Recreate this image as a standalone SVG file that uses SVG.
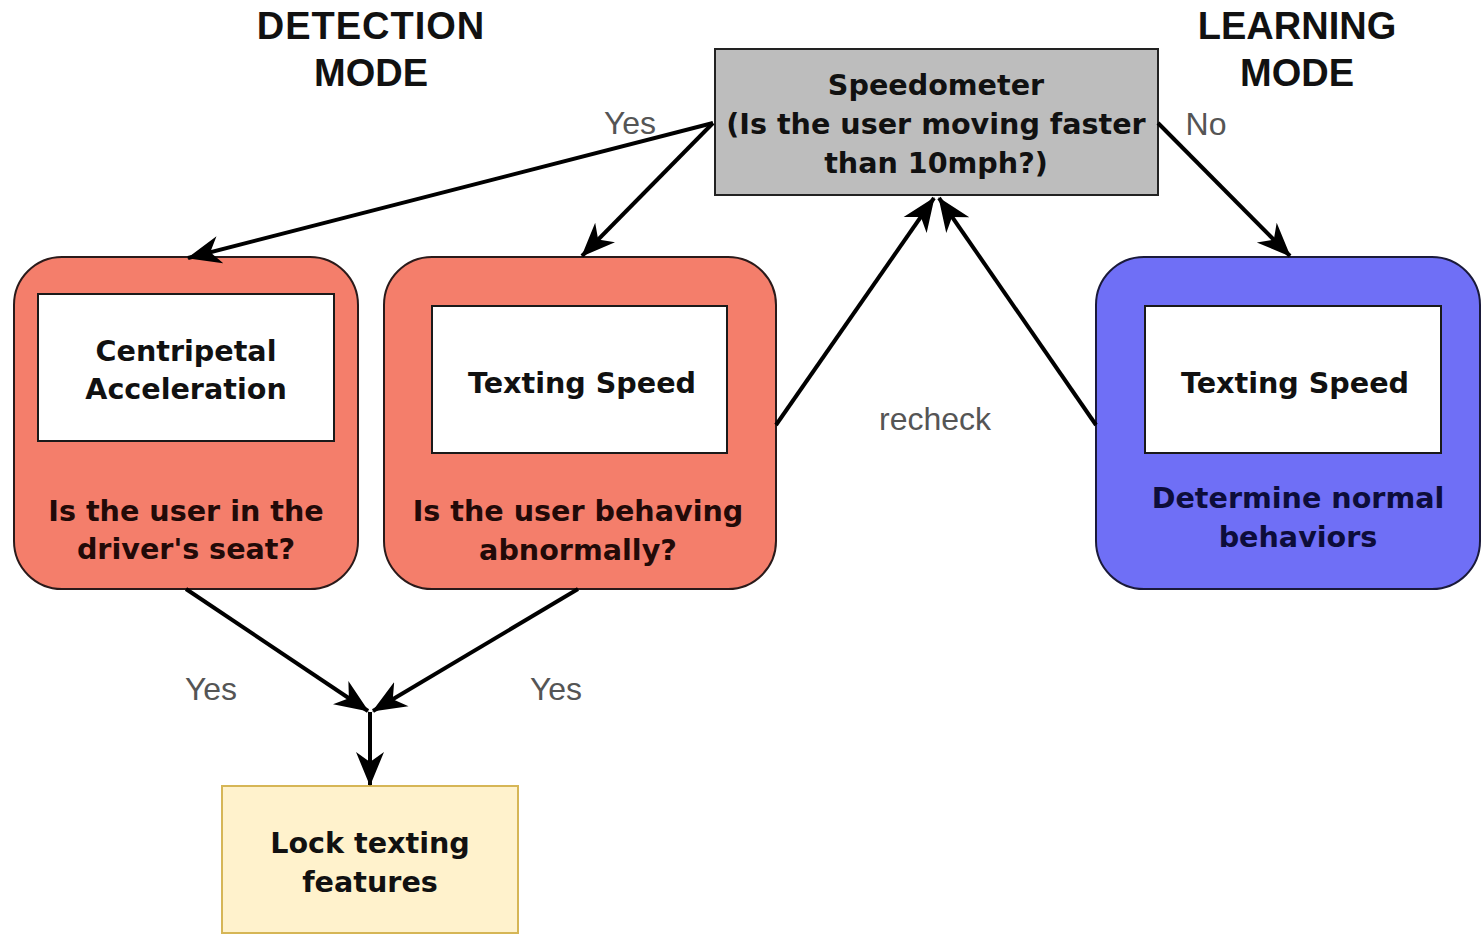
<svg xmlns="http://www.w3.org/2000/svg" width="1482" height="935" viewBox="0 0 1482 935">
  <style>
    .bold { font-family: "DejaVu Sans", Verdana, sans-serif; font-weight: bold; font-size: 28.6px; text-anchor: middle; }
    .title { font-family: "Liberation Sans", Arial, sans-serif; font-weight: bold; font-size: 38px; text-anchor: middle; fill: #111; }
    .lbl { font-family: "Liberation Sans", Arial, sans-serif; font-size: 32px; text-anchor: middle; fill: #555; }
    .edge { fill: none; stroke: #000; stroke-width: 4; marker-end: url(#arrow); }
    .inner { fill: #fff; stroke: #1a1a1a; stroke-width: 2; }
  </style>
  <defs>
    <marker id="arrow" markerUnits="userSpaceOnUse" markerWidth="34" markerHeight="30" viewBox="0 0 34 30" refX="33" refY="15" orient="auto">
      <path d="M0,1 L34,15 L0,29 L10,15 Z" fill="#000"/>
    </marker>
  </defs>
  <rect width="1482" height="935" fill="#fff"/>

  <!-- mode headings -->
  <text class="title" x="371" y="39" letter-spacing="1">DETECTION</text>
  <text class="title" x="371" y="86">MODE</text>
  <text class="title" x="1297" y="39">LEARNING</text>
  <text class="title" x="1297" y="86">MODE</text>

  <g id="speedometer">
    <rect x="715" y="49" width="443" height="146" fill="#bdbdbd" stroke="#222" stroke-width="2"/>
    <text class="bold" x="936" y="95" fill="#111">Speedometer</text>
    <text class="bold" x="936" y="134" fill="#111">(Is the user moving faster</text>
    <text class="bold" x="936" y="173" fill="#111">than 10mph?)</text>
  </g>

  <g id="centripetal">
    <rect x="14" y="257" width="344" height="332" rx="48" ry="48" fill="#f47e6b" stroke="#2a1a1a" stroke-width="2"/>
    <rect class="inner" x="38" y="294" width="296" height="147"/>
    <text class="bold" x="186" y="361" fill="#111">Centripetal</text>
    <text class="bold" x="186" y="399" fill="#111">Acceleration</text>
    <text class="bold" x="186" y="521" fill="#220a08">Is the user in the</text>
    <text class="bold" x="186" y="559" fill="#220a08">driver's seat?</text>
  </g>

  <g id="texting-detect">
    <rect x="384" y="257" width="392" height="332" rx="48" ry="48" fill="#f47e6b" stroke="#2a1a1a" stroke-width="2"/>
    <rect class="inner" x="432" y="306" width="295" height="147"/>
    <text class="bold" x="582" y="393" fill="#111">Texting Speed</text>
    <text class="bold" x="578" y="521" fill="#220a08">Is the user behaving</text>
    <text class="bold" x="578" y="560" fill="#220a08">abnormally?</text>
  </g>

  <g id="texting-learn">
    <rect x="1096" y="257" width="384" height="332" rx="48" ry="48" fill="#6f6ff6" stroke="#1a1a3a" stroke-width="2"/>
    <rect class="inner" x="1145" y="306" width="296" height="147"/>
    <text class="bold" x="1295" y="393" fill="#111">Texting Speed</text>
    <text class="bold" x="1298" y="508" fill="#0d0d3a">Determine normal</text>
    <text class="bold" x="1298" y="547" fill="#0d0d3a">behaviors</text>
  </g>

  <g id="lock">
    <rect x="222" y="786" width="296" height="147" fill="#fff2cc" stroke="#d6b656" stroke-width="2"/>
    <text class="bold" x="370" y="853" fill="#111">Lock texting</text>
    <text class="bold" x="370" y="892" fill="#111">features</text>
  </g>

  <g id="connectors">
    <path class="edge" d="M713,123 L188,258"/>
    <path class="edge" d="M713,123 L582,256"/>
    <path class="edge" d="M1158,123 L1290,256"/>
    <path class="edge" d="M776,425 L934,198"/>
    <path class="edge" d="M1096,425 L939,198"/>
    <path class="edge" d="M186,589 L368,711"/>
    <path class="edge" d="M578,589 L373,711"/>
    <path class="edge" d="M370,712 L370,785"/>
    <text class="lbl" x="630" y="134">Yes</text>
    <text class="lbl" x="1206" y="135">No</text>
    <text class="lbl" x="935" y="430">recheck</text>
    <text class="lbl" x="211" y="700">Yes</text>
    <text class="lbl" x="556" y="700">Yes</text>
  </g>
</svg>
